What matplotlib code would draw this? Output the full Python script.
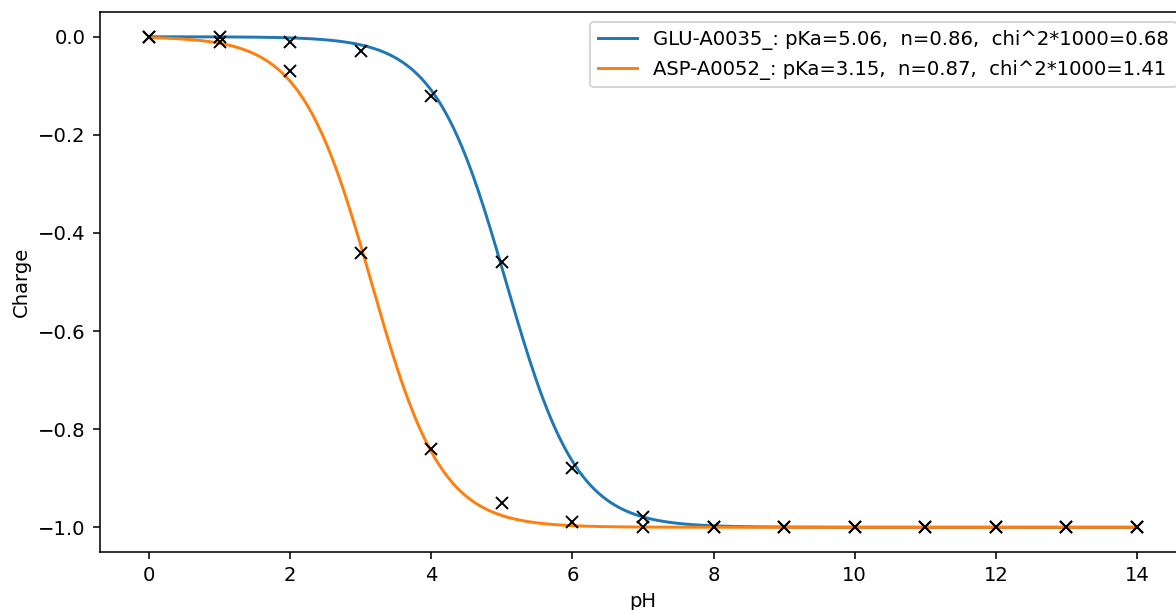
# Titration curves: simulated charge vs pH with fitted Henderson-Hasselbalch curves

import numpy as np
import matplotlib
matplotlib.use('Agg')
import matplotlib.pyplot as plt

ph_points = [0, 1, 2, 3, 4, 5, 6, 7, 8, 9, 10, 11, 12, 13, 14]

glu_charge = [0.0, 0.0, -0.01, -0.03, -0.12, -0.46, -0.88, -0.98, -1.0, -1.0, -1.0, -1.0, -1.0, -1.0, -1.0]
asp_charge = [0.0, -0.01, -0.07, -0.44, -0.84, -0.95, -0.99, -1.0, -1.0, -1.0, -1.0, -1.0, -1.0, -1.0, -1.0]

# fit results shown in the legend
names = ['GLU-A0035_', 'ASP-A0052_']
pkas = [5.06, 3.15]
hill_n = [0.86, 0.87]
chi2_1000 = [0.68, 1.41]

dpi = 141  # the reference was rendered at a higher dpi than 100


def fitted_charge(ph, pka, n):
  ''' charge of an acidic residue from the fitted pKa and Hill coefficient '''
  return -1.0 / (1.0 + 10 ** (n * (pka - ph)))


def main():
  fig = plt.figure(figsize=(1176 / dpi, 610 / dpi), dpi=dpi)
  # axes run past the right edge, as in the cropped original
  ax = fig.add_axes([99.6 / 1176, 58.2 / 610, 1086.8 / 1176, 539.6 / 610])

  ph_fine = np.linspace(0, 14, 500)
  for name, pka, n, chi in zip(names, pkas, hill_n, chi2_1000):
    label = '%s: pKa=%.2f,  n=%.2f,  chi^2*1000=%.2f' % (name, pka, n, chi)
    ax.plot(ph_fine, fitted_charge(ph_fine, pka, n), label=label)

  ax.plot(ph_points, glu_charge, 'kx')
  ax.plot(ph_points, asp_charge, 'kx')

  ax.set_xlim(-0.7, 14.7)
  ax.set_ylim(-1.05, 0.05)
  ax.set_xticks([0, 2, 4, 6, 8, 10, 12, 14])
  ax.set_xlabel('pH')
  ax.set_ylabel('Charge')
  ax.legend(loc='upper right')

  fig.savefig('out.png', dpi=dpi)


if __name__ == '__main__':
  main()
